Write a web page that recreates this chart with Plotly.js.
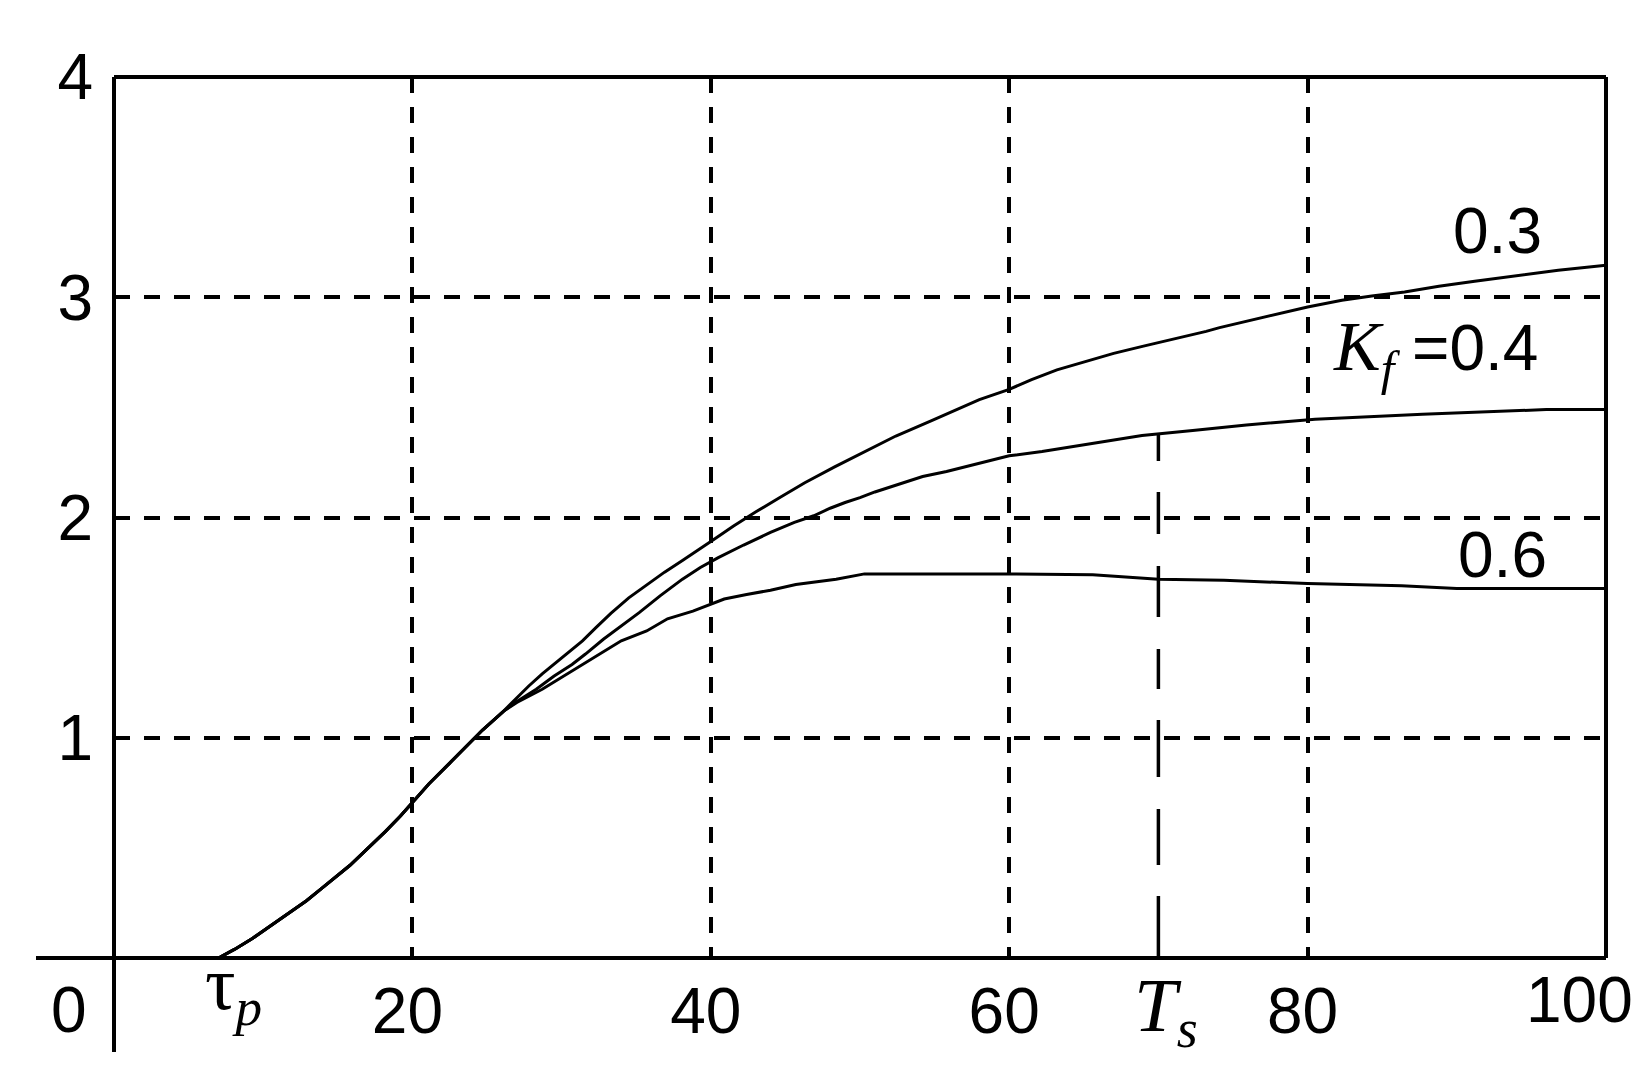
<!DOCTYPE html>
<html>
<head>
<meta charset="utf-8">
<script src="https://cdn.plot.ly/plotly-3.0.1.min.js"></script>
<style>
  html, body { margin: 0; padding: 0; background: #fff; }
  #chart { width: 1645px; height: 1081px; }
</style>
</head>
<body>
<div id="chart"></div>
<script>
// ---- data ----
// shared rising part (all three curves coincide here)
const commonX = [7.0, 8.1, 9.3, 11.0, 12.9, 13.9, 15.8, 16.5, 18.2, 19.2, 20.0, 21.1, 22.5, 23.5, 24.7, 26.1];
const commonY = [0.0, 0.04, 0.09, 0.17, 0.26, 0.315, 0.42, 0.465, 0.575, 0.645, 0.705, 0.79, 0.885, 0.955, 1.035, 1.12];

// Kf = 0.3
const kf03X = [27.0, 27.8, 28.7, 29.7, 30.7, 31.4, 32.3, 33.3, 34.5, 35.9, 36.9, 38.1, 39.3, 40.2, 41.5, 43.0, 44.6, 46.3, 48.3, 50.3, 52.4, 54.8, 56.5, 58.0, 60.0, 61.5, 63.2, 65.0, 67.0, 69.0, 71.1, 73.2, 74.1, 75.5, 76.8, 78.6, 80.0, 82.3, 84.3, 86.5, 88.8, 91.2, 93.8, 96.8, 100];
const kf03Y = [1.18, 1.235, 1.29, 1.345, 1.40, 1.44, 1.50, 1.565, 1.635, 1.705, 1.752, 1.805, 1.858, 1.90, 1.96, 2.025, 2.09, 2.158, 2.23, 2.30, 2.37, 2.44, 2.489, 2.535, 2.582, 2.626, 2.67, 2.705, 2.745, 2.778, 2.81, 2.845, 2.862, 2.885, 2.906, 2.933, 2.956, 2.986, 3.006, 3.024, 3.05, 3.073, 3.097, 3.123, 3.145];

// Kf = 0.4
const kf04X = [27.0, 28.3, 29.5, 30.7, 31.6, 32.8, 34.0, 35.2, 36.6, 38.1, 39.3, 40.5, 42.2, 43.1, 44.0, 44.8, 45.6, 46.9, 48.0, 49.0, 50.0, 51.0, 52.0, 53.0, 54.2, 55.8, 57.1, 58.6, 60.0, 62.2, 64.4, 66.5, 68.9, 72.3, 75.9, 80.5, 87.7, 96.0, 100];
const kf04Y = [1.165, 1.22, 1.28, 1.333, 1.38, 1.447, 1.508, 1.568, 1.644, 1.72, 1.773, 1.818, 1.875, 1.905, 1.932, 1.955, 1.978, 2.008, 2.042, 2.068, 2.09, 2.116, 2.139, 2.162, 2.186, 2.209, 2.231, 2.256, 2.28, 2.30, 2.324, 2.346, 2.372, 2.395, 2.42, 2.446, 2.469, 2.49, 2.49];

// Kf = 0.6
const kf06X = [27.0, 28.7, 29.9, 31.4, 33.1, 34.0, 35.7, 37.1, 38.8, 40.0, 40.9, 42.4, 44.0, 45.7, 48.4, 50.3, 55.0, 60.0, 65.6, 70.0, 74.4, 80.0, 86.3, 90.0, 95.0, 100];
const kf06Y = [1.16, 1.22, 1.27, 1.33, 1.40, 1.44, 1.485, 1.54, 1.575, 1.606, 1.63, 1.65, 1.67, 1.696, 1.72, 1.744, 1.744, 1.744, 1.74, 1.72, 1.715, 1.70, 1.69, 1.678, 1.678, 1.678];

const curveLabels = ['0.3', '0.4', '0.6'];
const xTickVals = [20, 40, 60, 80];
const xTickText = ['20', '40', '60', '80'];
const yTickVals = [1, 2, 3, 4];
const yTickText = ['1', '2', '3', '4'];
const tauP = 7;    // dead time
const Ts = 70;     // settling time
// ---------------------------------------

function interp(xs, ys, x) {
  for (let i = 1; i < xs.length; i++) {
    if (xs[i] >= x) {
      const t = (x - xs[i - 1]) / (xs[i] - xs[i - 1]);
      return ys[i - 1] + t * (ys[i] - ys[i - 1]);
    }
  }
  return ys[ys.length - 1];
}

const lineStyle = { color: '#000', width: 3 };
const traces = [
  { x: commonX.concat(kf03X), y: commonY.concat(kf03Y), name: 'Kf=' + curveLabels[0] },
  { x: commonX.concat(kf04X), y: commonY.concat(kf04Y), name: 'Kf=' + curveLabels[1] },
  { x: commonX.concat(kf06X), y: commonY.concat(kf06Y), name: 'Kf=' + curveLabels[2] },
  // Ts marker: drawn from the Kf=0.4 curve down to the time axis
  { x: [Ts, Ts], y: [interp(kf04X, kf04Y, Ts), 0], name: 'Ts',
    line: { color: '#000', width: 3.5, dash: '27px,31px,42px,32px,51px,32px,40px,31px,57px,32px,56px,31px,70px' } }
].map(t => Object.assign({ type: 'scatter', mode: 'lines', line: lineStyle, hoverinfo: 'skip' }, t));

const numFont = { family: 'Liberation Sans, Arial, sans-serif', size: 64, color: '#000' };
const serif = 'Liberation Serif, Times New Roman, serif';
const gridStyle = { showgrid: true, gridcolor: '#000', gridwidth: 4, griddash: '16px,14px', zeroline: false, showline: false, ticks: '' };

function px2paperX(px) { return (px - 114) / 1492; }
function px2paperY(py) { return (958 - py) / 881; }

const frame = { color: '#000', width: 4 };
const layout = {
  width: 1645, height: 1081,
  margin: { l: 114, r: 39, t: 77, b: 123 },
  paper_bgcolor: '#fff', plot_bgcolor: '#fff',
  showlegend: false,
  font: numFont,
  xaxis: Object.assign({}, gridStyle, {
    range: [0, 100], tickvals: xTickVals, ticktext: xTickText,
    tickfont: numFont, ticklabelshift: -5, ticklabelstandoff: 10
  }),
  yaxis: Object.assign({}, gridStyle, {
    range: [0, 4], tickvals: yTickVals, ticktext: yTickText,
    tickfont: numFont, ticklabelshift: 0, ticklabelstandoff: 20
  }),
  shapes: [
    { type: 'line', xref: 'paper', yref: 'paper', x0: 0, x1: 1, y0: 1, y1: 1, line: frame },
    { type: 'line', xref: 'paper', yref: 'paper', x0: 1, x1: 1, y0: 0, y1: 1, line: frame },
    { type: 'line', xref: 'paper', yref: 'paper', x0: px2paperX(36), x1: 1, y0: 0, y1: 0, line: frame },
    { type: 'line', xref: 'paper', yref: 'paper', x0: 0, x1: 0, y0: px2paperY(1052), y1: 1, line: frame }
  ],
  annotations: [
    { xref: 'paper', yref: 'paper', x: px2paperX(69), y: px2paperY(1010), xanchor: 'center', yanchor: 'middle',
      text: '0', showarrow: false, font: numFont },
    { xref: 'paper', yref: 'paper', x: px2paperX(1579), y: px2paperY(1000), xanchor: 'center', yanchor: 'middle',
      text: '100', showarrow: false, font: numFont },
    { xref: 'paper', yref: 'paper', x: px2paperX(233), y: px2paperY(989), xanchor: 'center', yanchor: 'middle',
      text: 'τ<sub><i>p</i></sub>', showarrow: false, font: { family: serif, size: 76, color: '#000' } },
    { xref: 'paper', yref: 'paper', x: px2paperX(1166), y: px2paperY(1010), xanchor: 'center', yanchor: 'middle',
      text: '<i>T</i><sub><i>s</i></sub>', showarrow: false, font: { family: serif, size: 77, color: '#000' } },
    { xref: 'paper', yref: 'paper', x: px2paperX(1497), y: px2paperY(231), xanchor: 'center', yanchor: 'middle',
      text: curveLabels[0], showarrow: false, font: numFont },
    { xref: 'paper', yref: 'paper', x: px2paperX(1435), y: px2paperY(352), xanchor: 'center', yanchor: 'middle',
      text: '<span style="font-family:Liberation Serif;font-size:70px"><i>K</i><sub><i>f</i></sub></span> =' + curveLabels[1],
      showarrow: false, font: numFont },
    { xref: 'paper', yref: 'paper', x: px2paperX(1502), y: px2paperY(555), xanchor: 'center', yanchor: 'middle',
      text: curveLabels[2], showarrow: false, font: numFont }
  ]
};

Plotly.newPlot('chart', traces, layout, { staticPlot: true, displayModeBar: false });
</script>
</body>
</html>
